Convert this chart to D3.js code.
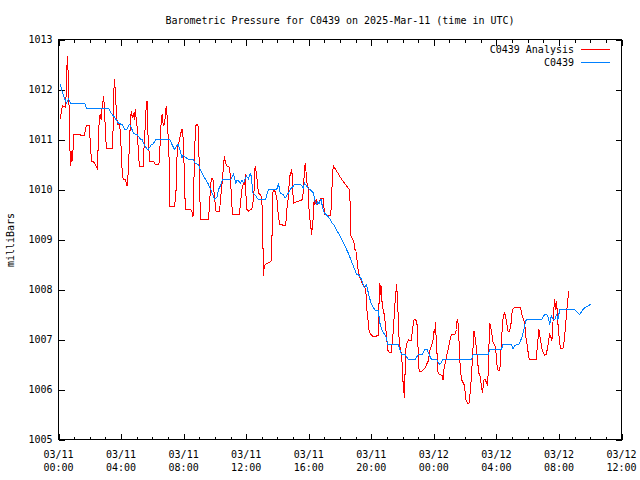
<!DOCTYPE html>
<html><head><meta charset="utf-8">
<script src="https://cdn.jsdelivr.net/npm/d3@7"></script>
<style>
html,body{margin:0;padding:0;background:#fff;}
svg text{font-family:"DejaVu Sans Mono",monospace;font-size:10px;fill:#000;}
</style></head><body>
<svg id="chart" width="640" height="480"></svg>
<script>
// ---- data (hours since 2025-03-11 00:00 UTC, pressure in mb) ----
const analysisHours = [
0.13,0.19,0.27,0.45,0.49,0.53,0.57,0.62,0.68,0.72,
0.79,0.83,0.89,0.98,1.36,1.40,1.68,1.72,1.79,1.96,
2.00,2.04,2.11,2.25,2.36,2.47,2.53,2.60,2.66,2.73,
2.79,2.89,2.96,3.02,3.08,3.43,3.49,3.53,3.57,3.62,
3.66,3.72,3.79,3.91,3.98,4.04,4.13,4.28,4.39,4.45,
4.55,4.60,4.66,4.72,4.79,4.85,4.91,4.96,5.02,5.06,
5.13,5.17,5.41,5.44,5.51,5.57,5.62,5.66,5.70,5.76,
5.83,6.08,6.19,6.40,6.47,6.51,6.56,6.62,6.66,6.72,
6.78,6.83,6.87,6.91,6.96,7.02,7.07,7.08,7.42,7.51,
7.58,7.64,7.74,7.81,7.87,7.93,8.00,8.04,8.11,8.43,
8.53,8.60,8.64,8.70,8.76,8.85,8.92,8.98,9.06,9.11,
9.59,9.64,9.70,9.77,9.87,9.91,9.98,10.07,10.30,10.34,
10.45,10.55,10.61,10.66,10.74,10.93,11.00,11.06,11.13,11.57,
11.62,11.68,11.76,11.85,11.89,11.96,12.00,12.04,12.15,12.36,
12.47,12.53,12.57,12.66,12.72,12.79,12.96,13.02,13.07,13.10,
13.15,13.21,13.42,13.60,13.64,13.68,13.72,13.81,13.96,14.02,
14.09,14.15,14.49,14.57,14.62,14.68,14.74,14.81,14.92,14.96,
15.00,15.04,15.62,15.66,15.72,15.77,15.81,15.85,15.91,15.98,
16.02,16.08,16.19,16.23,16.30,16.34,16.40,16.47,16.53,16.61,
16.79,16.93,16.98,17.04,17.36,17.43,17.51,17.57,18.11,18.59,
18.66,18.70,18.87,18.96,19.02,19.07,19.17,19.28,19.42,19.60,
19.66,19.70,19.77,19.85,19.91,20.13,20.44,20.51,20.55,20.60,
20.64,20.70,20.83,20.89,20.98,21.04,21.11,21.26,21.32,21.38,
21.43,21.53,21.62,21.68,21.75,21.79,21.87,21.94,22.00,22.04,
22.08,22.10,22.17,22.23,22.38,22.53,22.58,22.62,22.68,22.74,
22.91,22.96,23.00,23.06,23.23,23.43,23.64,23.74,23.87,23.96,
24.02,24.06,24.11,24.17,24.24,24.27,24.53,24.59,24.64,24.77,
24.91,25.02,25.13,25.34,25.45,25.49,25.55,25.61,25.66,25.70,
25.77,25.93,25.98,26.04,26.19,26.25,26.30,26.36,26.47,26.51,
26.57,26.66,26.72,26.79,26.87,26.94,27.04,27.11,27.21,27.27,
27.38,27.43,27.47,27.53,27.58,27.68,27.79,27.89,27.96,28.00,
28.07,28.21,28.26,28.32,28.38,28.45,28.53,28.60,28.66,28.74,
28.81,28.92,28.96,29.02,29.17,29.49,29.55,29.60,29.74,29.81,
29.87,29.96,30.08,30.13,30.55,30.62,30.72,30.83,30.94,31.08,
31.19,31.29,31.40,31.51,31.55,31.64,31.72,31.81,31.85,31.96,
32.09,32.26,32.36,32.47,32.62];
const analysisValues = [
1011.41,1011.60,1011.67,1011.65,1011.90,1012.40,1012.67,1012.30,1011.60,1010.87,
1010.47,1010.77,1010.57,1011.10,1011.10,1011.09,1011.09,1011.23,1011.28,1011.28,
1011.10,1010.90,1010.57,1010.55,1010.50,1010.43,1010.80,1011.37,1011.50,1011.40,
1011.63,1011.87,1011.47,1011.00,1010.83,1010.83,1011.20,1011.87,1012.20,1012.03,
1011.80,1011.43,1011.30,1011.30,1011.03,1010.50,1010.21,1010.19,1010.07,1010.30,
1011.00,1011.40,1011.57,1011.43,1011.53,1011.40,1011.60,1011.43,1011.27,1011.00,
1010.67,1010.47,1010.47,1010.67,1011.07,1011.40,1011.77,1011.77,1011.20,1010.90,
1010.57,1010.57,1010.50,1010.50,1010.57,1011.13,1011.30,1011.50,1011.37,1011.27,
1011.33,1011.47,1011.63,1011.67,1011.37,1011.00,1010.63,1009.67,1009.67,1009.93,
1010.67,1010.87,1011.00,1011.10,1011.20,1011.20,1010.87,1010.33,1009.61,1009.61,
1009.57,1009.45,1009.93,1010.67,1011.27,1011.30,1011.27,1010.73,1009.60,1009.41,
1009.41,1009.60,1009.93,1010.23,1010.23,1010.07,1009.83,1009.57,1009.57,1009.73,
1010.10,1010.47,1010.67,1010.57,1010.48,1010.44,1010.24,1009.80,1009.50,1009.50,
1009.67,1009.87,1010.07,1010.13,1010.10,1010.30,1009.73,1009.60,1009.57,1009.61,
1009.80,1010.13,1010.47,1010.33,1010.10,1009.93,1009.87,1009.67,1009.00,1008.27,
1008.43,1008.50,1008.53,1008.57,1008.93,1009.40,1010.00,1010.00,1009.83,1009.60,
1009.40,1009.30,1009.28,1009.40,1009.67,1009.80,1010.07,1010.30,1010.40,1010.13,
1009.87,1009.73,1009.80,1010.07,1010.30,1010.52,1010.43,1010.27,1010.07,1010.03,
1009.60,1009.40,1009.10,1009.27,1009.47,1009.77,1009.70,1009.80,1009.70,1009.73,
1009.83,1009.83,1009.63,1009.50,1009.47,1009.60,1010.20,1010.48,1010.20,1010.00,
1009.67,1009.07,1008.97,1008.80,1008.77,1008.63,1008.37,1008.23,1008.13,1008.03,
1007.93,1007.63,1007.47,1007.20,1007.13,1007.05,1007.08,1007.90,1008.13,1007.90,
1008.07,1007.67,1007.50,1007.33,1007.07,1006.80,1006.75,1006.73,1006.90,1007.07,
1007.30,1007.80,1008.10,1007.77,1007.27,1006.90,1006.80,1006.67,1006.40,1006.07,
1006.13,1005.83,1006.40,1006.90,1006.99,1006.97,1007.01,1007.17,1007.30,1007.41,
1007.37,1007.13,1006.73,1006.37,1006.36,1006.43,1006.57,1006.77,1006.90,1007.00,
1007.20,1007.13,1007.35,1006.83,1006.60,1006.32,1006.28,1006.19,1006.40,1006.60,
1006.80,1006.97,1007.10,1007.10,1007.20,1007.40,1007.33,1006.97,1006.60,1006.40,
1006.20,1006.10,1006.03,1005.80,1005.72,1005.73,1005.87,1006.07,1006.60,1006.87,
1007.17,1007.00,1006.83,1006.60,1006.33,1006.30,1006.07,1005.93,1006.20,1006.21,
1006.13,1006.07,1006.30,1006.93,1007.33,1007.17,1006.93,1006.90,1006.83,1006.60,
1006.40,1006.37,1006.57,1006.93,1007.27,1007.50,1007.53,1007.43,1007.33,1007.17,
1007.15,1007.27,1007.40,1007.60,1007.65,1007.65,1007.63,1007.53,1007.40,1007.33,
1007.07,1006.90,1006.63,1006.60,1006.60,1006.87,1007.20,1006.97,1006.77,1006.69,
1006.70,1006.87,1007.10,1007.03,1006.97,1007.47,1007.80,1007.60,1007.77,1007.20,
1006.83,1006.83,1007.03,1007.47,1007.97];

const stationHours = [
0.13,0.17,0.30,0.45,0.51,0.64,0.77,0.87,1.68,1.79,
3.21,3.34,3.53,3.68,3.85,4.07,4.23,4.39,4.49,4.55,
4.70,4.81,5.02,5.23,5.34,5.47,5.66,5.76,5.94,6.04,
6.26,7.09,7.26,7.42,7.58,7.64,7.79,7.90,7.96,8.28,
8.60,8.74,8.96,9.06,9.27,9.49,9.59,9.81,9.98,10.13,
10.23,10.34,10.49,11.04,11.19,11.34,11.41,11.51,11.64,11.73,
11.85,11.89,12.02,12.15,12.26,12.32,12.43,12.62,12.75,13.26,
13.32,13.42,13.96,14.06,14.13,14.17,14.38,14.49,14.60,14.70,
14.81,15.02,15.13,15.45,15.66,15.72,15.87,16.02,16.19,16.30,
16.40,16.51,16.58,16.66,16.72,16.79,16.83,16.87,16.93,17.00,
17.09,17.21,17.36,17.47,17.57,18.00,18.53,18.85,19.07,19.17,
19.38,19.55,19.70,19.85,20.02,20.23,20.44,20.55,20.70,20.87,
20.98,21.04,21.72,21.83,21.94,22.15,22.26,22.36,22.79,22.90,
23.00,23.28,23.36,23.43,23.57,23.66,23.74,23.85,24.17,24.27,
24.38,24.49,24.59,26.41,26.51,27.47,27.58,28.32,28.42,28.96,
29.06,29.17,29.28,29.44,29.53,29.62,29.70,29.81,29.87,29.96,
30.91,30.98,31.08,31.23,31.30,31.36,31.40,31.47,31.51,31.61,
31.72,31.79,31.83,31.87,31.94,32.01,32.05,33.00,33.11,33.21,
33.32,33.43,33.53,33.64,33.75,33.86,33.96,34.06];
const stationValues = [
1012.11,1012.03,1011.90,1011.77,1011.73,1011.81,1011.73,1011.72,1011.72,1011.63,
1011.63,1011.53,1011.47,1011.40,1011.32,1011.30,1011.21,1011.21,1011.28,1011.30,
1011.20,1011.12,1011.10,1011.01,1011.00,1010.90,1010.81,1010.81,1010.90,1010.91,
1011.01,1011.01,1010.90,1010.80,1010.88,1010.90,1010.77,1010.63,1010.68,1010.61,
1010.61,1010.52,1010.50,1010.40,1010.27,1010.16,1010.10,1009.94,1009.81,1009.84,
1010.00,1010.07,1010.20,1010.21,1010.30,1010.13,1010.19,1010.17,1010.13,1010.19,
1010.13,1010.19,1010.27,1010.21,1010.32,1010.27,1009.93,1009.87,1009.81,1009.81,
1009.90,1010.00,1010.01,1010.10,1010.03,1009.93,1009.90,1009.83,1009.88,1009.93,
1010.00,1010.07,1010.11,1010.11,1010.03,1010.13,1010.07,1010.01,1009.97,1009.93,
1009.77,1009.70,1009.75,1009.72,1009.77,1009.80,1009.73,1009.67,1009.60,1009.53,
1009.50,1009.47,1009.41,1009.33,1009.31,1009.07,1008.73,1008.47,1008.30,1008.30,
1008.20,1008.03,1008.10,1007.87,1007.70,1007.59,1007.59,1007.33,1007.17,1007.10,
1007.03,1006.90,1006.90,1006.80,1006.70,1006.70,1006.65,1006.60,1006.60,1006.65,
1006.70,1006.70,1006.77,1006.80,1006.80,1006.73,1006.67,1006.60,1006.60,1006.55,
1006.50,1006.55,1006.60,1006.60,1006.70,1006.70,1006.80,1006.80,1006.90,1006.90,
1006.81,1006.87,1006.90,1006.90,1006.97,1007.03,1007.13,1007.27,1007.37,1007.40,
1007.40,1007.45,1007.50,1007.50,1007.45,1007.37,1007.30,1007.40,1007.47,1007.41,
1007.40,1007.43,1007.50,1007.47,1007.40,1007.53,1007.60,1007.60,1007.57,1007.53,
1007.50,1007.55,1007.60,1007.63,1007.65,1007.67,1007.69,1007.70];

const yTickValues = [1005,1006,1007,1008,1009,1010,1011,1012,1013];
const xMajorHours = [0,4,8,12,16,20,24,28,32,36];
const xMinorHours = d3.range(0,37,1);
const seriesNames = ["C0439 Analysis","C0439"];
const seriesColors = ["#ff0000","#0080ff"];
const titleText = "Barometric Pressure for C0439 on 2025-Mar-11 (time in UTC)";
const yAxisLabel = "milliBars";

// ---- chart ----
const t0 = Date.UTC(2025,2,11);
const toDate = h => new Date(t0 + h*3600e3);
const L=58.5, R=621.5, T=39.5, B=439.5;
const x = d3.scaleUtc().domain([toDate(0),toDate(36)]).range([L,R]);
const y = d3.scaleLinear().domain([1005,1013]).range([B,T]);
const svg = d3.select("#chart");
svg.append("rect").attr("width",640).attr("height",480).attr("fill","#fff");

function styleAxis(g){ g.select(".domain").remove(); g.selectAll(".tick line").attr("stroke","#000").attr("shape-rendering","crispEdges"); }

// minor x ticks
svg.append("g").attr("transform",`translate(0,${B})`)
  .call(d3.axisBottom(x).tickValues(xMinorHours.map(toDate)).tickSize(-3).tickFormat("")).call(styleAxis);
svg.append("g").attr("transform",`translate(0,${T})`)
  .call(d3.axisTop(x).tickValues(xMinorHours.map(toDate)).tickSize(-3).tickFormat("")).call(styleAxis);
// major x ticks
svg.append("g").attr("transform",`translate(0,${B})`)
  .call(d3.axisBottom(x).tickValues(xMajorHours.map(toDate)).tickSize(-6).tickFormat("")).call(styleAxis);
svg.append("g").attr("transform",`translate(0,${T})`)
  .call(d3.axisTop(x).tickValues(xMajorHours.map(toDate)).tickSize(-6).tickFormat("")).call(styleAxis);
// y ticks
const gl = svg.append("g").attr("transform",`translate(${L},0)`)
  .call(d3.axisLeft(y).tickValues(yTickValues).tickSize(-6).tickPadding(6).tickFormat(d3.format("d"))).call(styleAxis);
gl.selectAll("text").attr("fill","#000");
svg.append("g").attr("transform",`translate(${R},0)`)
  .call(d3.axisRight(y).tickValues(yTickValues).tickSize(-6).tickFormat("")).call(styleAxis);

// x labels (two lines)
const fmtD = d3.utcFormat("%m/%d"), fmtT = d3.utcFormat("%H:%M");
const xl = svg.append("g").selectAll("g").data(xMajorHours.map(toDate)).join("g")
  .attr("transform", d=>`translate(${x(d)},0)`);
xl.append("text").attr("y",458).attr("text-anchor","middle").text(d=>fmtD(d));
xl.append("text").attr("y",471).attr("text-anchor","middle").text(d=>fmtT(d));

// border
svg.append("rect").attr("x",L).attr("y",T).attr("width",R-L).attr("height",B-T)
  .attr("fill","none").attr("stroke","#000").attr("shape-rendering","crispEdges");

// series
const line = d3.line().x(d=>x(toDate(d[0]))).y(d=>y(d[1]));
const analysis = analysisHours.map((h,i)=>[h,analysisValues[i]]);
const station = stationHours.map((h,i)=>[h,stationValues[i]]);
[analysis, station].forEach((s,i)=>{
  svg.append("path").datum(s).attr("d",line).attr("fill","none")
    .attr("stroke",seriesColors[i]).attr("stroke-width",1).attr("shape-rendering","crispEdges");
});

// title & y label
svg.append("text").attr("x",340).attr("y",24).attr("text-anchor","middle").text(titleText);
svg.append("text").attr("transform","translate(13.5,240) rotate(-90)").attr("text-anchor","middle").text(yAxisLabel);

// legend
seriesNames.forEach((n,i)=>{
  const yy = 49.5 + i*13;
  svg.append("text").attr("x",574).attr("y",yy+3.5).attr("text-anchor","end").text(n);
  svg.append("line").attr("x1",581).attr("x2",610).attr("y1",yy).attr("y2",yy)
    .attr("stroke",seriesColors[i]).attr("stroke-width",1).attr("shape-rendering","crispEdges");
});
</script>
</body></html>
